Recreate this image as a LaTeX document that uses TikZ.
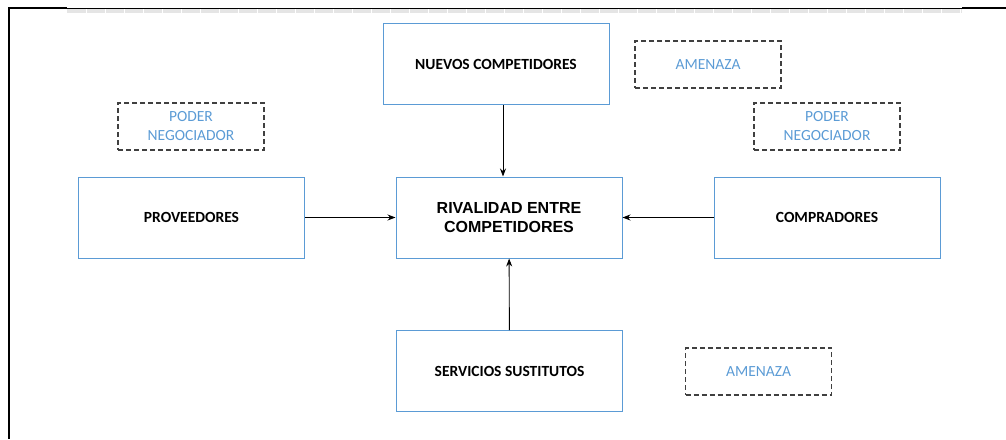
\documentclass[tikz,border=0pt]{standalone}
\usepackage{fontspec}
\setmainfont{Carlito}
\newfontfamily\arialfont{Liberation Sans}
\usetikzlibrary{arrows.meta}
\definecolor{boxblue}{HTML}{5B9BD5}
\definecolor{labelblue}{HTML}{5B9BD5}

\begin{document}
\begin{tikzpicture}[x=1pt,y=-1pt,
        force/.style={draw=boxblue,line width=1pt,minimum width=226pt,minimum height=81pt,
                align=center,font=\bfseries\fontsize{15.5}{19}\selectfont},
        note/.style={draw=black!75,dash pattern=on 5pt off 3pt,line width=1.1pt,minimum width=146pt,minimum height=47pt,
                align=center,text=labelblue,font=\fontsize{15.5}{19}\selectfont},
        push/.style={-{Stealth[length=8pt,width=6pt]},line width=0.9pt}]
        \useasboundingbox (0,0) rectangle (1006,439);
        % page frame
        \fill[black!10] (67,9) rectangle (962,13);
        \foreach \t in {86,105,...,962} \draw[white,line width=0.8pt] (\t,9) -- (\t,13);
        \draw[line width=0.5pt] (8,8) -- (1006,8);
        \draw[line width=2pt] (9,8) -- (67,8);
        \draw[line width=2pt] (962,8) -- (1006,8);
        \draw[line width=2pt] (9,7) -- (9,439);
        % forces
        \node[force](nuevos) at (496,64) {NUEVOS COMPETIDORES};
        \node[force](prov) at (191.5,217.5) {PROVEEDORES};
        \node[force,font=\arialfont\bfseries\fontsize{16}{18.5}\selectfont](rival) at (509,217.5) {RIVALIDAD ENTRE\\COMPETIDORES};
        \node[force](comp) at (827,217.5) {COMPRADORES};
        \node[force](sust) at (509.5,371) {SERVICIOS SUSTITUTOS};
        \node[note](amen1) at (708,64.5) {AMENAZA};
        \node[note](poder1) at (191,126.5) {PODER\\NEGOCIADOR};
        \node[note](poder2) at (827,126.5) {PODER\\NEGOCIADOR};
        \node[note](amen2) at (758.5,371.5) {AMENAZA};
        \draw[push](nuevos.south -| 503,0) -- (rival.north -| 503,0);
        \draw[push](prov) -- (rival);
        \draw[push](comp) -- (rival);
        \draw[push](sust) -- (rival);
        \end{tikzpicture}
\end{document}
